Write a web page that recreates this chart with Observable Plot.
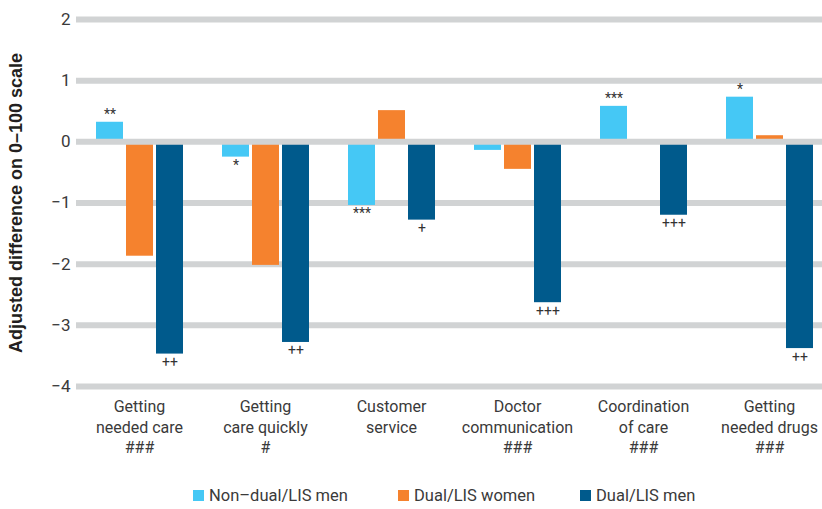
<!DOCTYPE html>
<html><head><meta charset="utf-8">
<script src="https://cdn.jsdelivr.net/npm/d3@7"></script>
<script src="https://cdn.jsdelivr.net/npm/@observablehq/plot@0.6"></script>
<style>
body{margin:0;background:#fff;}
#wrap{position:relative;width:822px;height:509px;overflow:hidden;background:#fff;}
.leg{position:absolute;top:486px;display:flex;align-items:center;font:16.5px Roboto, sans-serif;color:#3a3a3a;white-space:nowrap;}
.sw{width:11px;height:11px;margin-right:5px;}
</style></head><body><div id="wrap"></div>
<script>
const categories = ["Getting needed care", "Getting care quickly", "Customer service", "Doctor communication", "Coordination of care", "Getting needed drugs"];
const categoryLabels = ["Getting\nneeded care\n###", "Getting\ncare quickly\n#", "Customer\nservice", "Doctor\ncommunication\n###", "Coordination\nof care\n###", "Getting\nneeded drugs\n###"];
const series = ["Non–dual/LIS men", "Dual/LIS women", "Dual/LIS men"];
const colors = ["#45c8f5", "#f5822e", "#005a8c"];
const nonDualMen = [0.32, -0.25, -1.04, -0.14, 0.58, 0.73];
const dualWomen = [-1.87, -2.02, 0.51, -0.45, 0, 0.10];
const dualMen = [-3.47, -3.28, -1.28, -2.63, -1.20, -3.38];
const nonDualMenSig = ["**", "*", "***", "", "***", "*"];
const dualWomenSig = ["", "", "", "", "", ""];
const dualMenSig = ["++", "++", "+", "+++", "+++", "++"];
const yTicks = [2, 1, 0, -1, -2, -3, -4];
const yTitle = "Adjusted difference on 0–100 scale";

const values = [nonDualMen, dualWomen, dualMen];
const sigs = [nonDualMenSig, dualWomenSig, dualMenSig];
const rows = [];
categories.forEach((c, i) => series.forEach((s, j) => rows.push({category: c, series: s, value: values[j][i], sig: sigs[j][i]})));
const labelOf = new Map(categories.map((c, i) => [c, categoryLabels[i]]));
const fmt = d => d < 0 ? "\u2212" + (-d) : String(d);

const plot = Plot.plot({
  width: 822, height: 470,
  marginTop: 19, marginBottom: 84, marginLeft: 76, marginRight: 0,
  style: {fontFamily: "Roboto, sans-serif", background: "#fff"},
  fx: {domain: categories, range: [75.5, 831.5], padding: 0, label: null},
  x: {domain: series, paddingInner: 0.1, paddingOuter: 0.65, axis: null},
  y: {domain: [-4, 2]},
  color: {domain: series, range: colors},
  marks: [
    Plot.ruleY(yTicks.filter(d => d !== 0), {stroke: "#d1d3d4", strokeWidth: 6}),
    Plot.barY(rows, {fx: "category", x: "series", y: "value", fill: "series", inset: 0}),
    Plot.ruleY([0], {stroke: "#d1d3d4", strokeWidth: 6}),
    Plot.text(rows.filter(d => d.sig && d.value > 0), {fx: "category", x: "series", y: "value", text: "sig", lineAnchor: "bottom", dy: -3, fontSize: 14, fill: "#333"}),
    Plot.text(rows.filter(d => d.sig && d.value < 0), {fx: "category", x: "series", y: "value", text: "sig", lineAnchor: "top", dy: 3, fontSize: 14, fill: "#333"}),
    Plot.axisY(yTicks, {anchor: "left", tickSize: 0, tickPadding: 6, fontSize: 17, tickFormat: fmt, label: null, fill: "#3a3a3a"}),
    Plot.axisY([], {anchor: "left", tickSize: 0, label: yTitle, labelArrow: "none", labelAnchor: "center", labelOffset: 67, fontSize: 18, fontWeight: "bold", fontFamily: "'Liberation Sans', Arial, sans-serif", fill: "#231f20"}),
    Plot.axisFx({anchor: "bottom", tickSize: 0, tickPadding: 11, fontSize: 16, lineHeight: 1.28, tickFormat: c => labelOf.get(c), label: null, fill: "#3a3a3a"})
  ]
});
const wrap = document.getElementById("wrap");
wrap.appendChild(plot);
const legendLeft = [193, 398, 580];
series.forEach((s, i) => {
  const item = document.createElement("div");
  item.className = "leg";
  item.style.left = legendLeft[i] + "px";
  const sw = document.createElement("span");
  sw.className = "sw";
  sw.style.background = colors[i];
  const t = document.createElement("span");
  t.textContent = s;
  item.appendChild(sw); item.appendChild(t);
  wrap.appendChild(item);
});
</script></body></html>
